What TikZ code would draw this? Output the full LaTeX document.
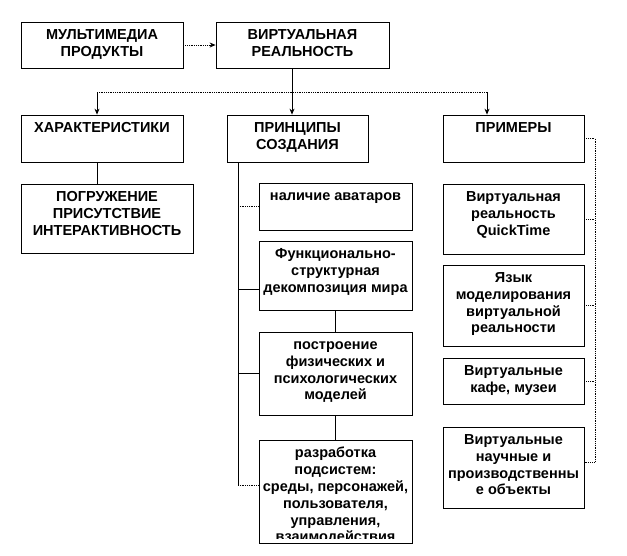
\documentclass[tikz,border=0pt]{standalone}
\usepackage{fontspec}
\setmainfont{Liberation Sans}
\usetikzlibrary{arrows.meta, positioning}

% box text: width, height, lines (top aligned)
\newcommand{\boxtxt}[3]{\parbox[c][#2pt][t]{#1pt}{\centering\rule{0pt}{17.5pt}#3}}

\begin{document}
\begin{tikzpicture}[x=1pt, y=-1pt,
    box/.style={draw, line width=0.8pt, inner sep=0pt, font=\fontsize{14.5}{16.8}\selectfont\bfseries},
    link/.style={line width=0.8pt},
    dots/.style={line width=0.8pt, densely dotted},
    tip/.style={-{Stealth[length=6pt, width=5pt]}}]
  \fill[white] (0,0) rectangle (627,555);

  % top row
  \node[box] (mm) at (102,45) {\boxtxt{162}{46}{МУЛЬТИМЕДИА\\ПРОДУКТЫ}};
  \node[box] (vr) at (302.5,45) {\boxtxt{173}{46}{ВИРТУАЛЬНАЯ\\РЕАЛЬНОСТЬ}};

  % second row
  \node[box] (xar) at (102,138.5) {\boxtxt{162}{47}{ХАРАКТЕРИСТИКИ}};
  \node[box] (prin) at (297.5,138.5) {\boxtxt{141}{47}{ПРИНЦИПЫ\\СОЗДАНИЯ}};
  \node[box] (prim) at (513.5,138.5) {\boxtxt{141}{47}{ПРИМЕРЫ}};

  % characteristics
  \node[box] (pogr) at (107,218.5) {\boxtxt{172}{69}{ПОГРУЖЕНИЕ\\ПРИСУТСТВИЕ\\ИНТЕРАКТИВНОСТЬ}};

  % principles
  \node[box] (ava) at (335.5,206.5) {\boxtxt{153}{47}{наличие аватаров}};
  \node[box] (func) at (335.5,275.5) {\boxtxt{153}{69}{Функционально-\\структурная\\декомпозиция мира}};
  \node[box] (postr) at (335.5,373.5) {\boxtxt{153}{83}{построение\\физических и\\психологических\\моделей}};
  \node[box, minimum width=153pt, minimum height=103pt,
    path picture={
      \clip (path picture bounding box.north west) rectangle ([yshift=5pt]path picture bounding box.south east);
      \node[anchor=north, inner sep=0pt] (razr-t) at (path picture bounding box.north)
        {\boxtxt{153}{103}{разработка\\подсистем:\\среды, персонажей,\\пользователя,\\управления,\\взаимодействия}};
    }] (razr) at (335.5,491.5) {};

  % examples
  \node[box] (qt) at (513.5,219) {\boxtxt{141}{70}{Виртуальная\\реальность\\QuickTime}};
  \node[box] (yaz) at (513.5,305.5) {\boxtxt{141}{81}{Язык\\моделирования\\виртуальной\\реальности}};
  \node[box] (kafe) at (513.5,381) {\boxtxt{141}{46}{Виртуальные\\кафе, музеи}};
  \node[box] (nauch) at (513.5,467.5) {\boxtxt{141}{81}{Виртуальные\\научные и\\производственны\\е объекты}};

  % top links
  \draw[dots, tip] (mm) -- (vr);
  \coordinate (split) at (292,92);
  \coordinate (lft) at (97,92);
  \coordinate (rgt) at (487,92);
  \draw[link] (vr.south -| split) -- (split);
  \draw[link, tip] (split) -- (split |- prin.north);
  \draw[dots] (lft) -- (rgt);
  \draw[link, tip] (lft) -- (lft |- xar.north);
  \draw[link, tip] (rgt) -- (rgt |- prim.north);
  \draw[link] (lft |- xar.south) -- (lft |- pogr.north);

  % trunk of principles
  \coordinate (trunk) at (238,485);
  \coordinate (b-ava) at (238,206);
  \coordinate (b-func) at (238,289);
  \coordinate (b-postr) at (238,373.5);
  \draw[link] (trunk |- prin.south) -- (trunk);
  \draw[dots] (b-ava) -- (b-ava -| ava.west);
  \draw[link] (b-func) -- (b-func -| func.west);
  \draw[link] (b-postr) -- (b-postr -| postr.west);
  \draw[dots] (trunk) -- (trunk -| razr.west);
  \draw[link] (func) -- (postr);
  \draw[link] (postr) -- (razr);

  % rail of examples
  \coordinate (rail) at (595,462);
  \draw[dots] (prim.east) -| (rail) -- (rail -| nauch.east);
  \draw[dots] (qt.east) -- (qt.east -| rail);
  \draw[dots] (yaz.east) -- (yaz.east -| rail);
  \draw[dots] (kafe.east) -- (kafe.east -| rail);
\end{tikzpicture}
\end{document}
